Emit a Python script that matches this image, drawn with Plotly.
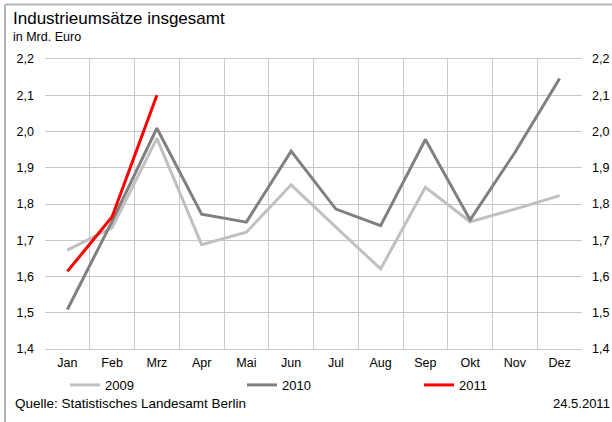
import plotly.graph_objects as go

# Industrieumsätze Berlin, in Mrd. Euro
monate = ['Jan', 'Feb', 'Mrz', 'Apr', 'Mai', 'Jun', 'Jul', 'Aug', 'Sep', 'Okt', 'Nov', 'Dez']
umsatz_2009 = [1.673, 1.735, 1.981, 1.688, 1.722, 1.853, 1.736, 1.621, 1.846, 1.751, 1.786, 1.823]
umsatz_2010 = [1.509, 1.752, 2.009, 1.772, 1.750, 1.946, 1.786, 1.740, 1.978, 1.756, 1.942, 2.146]
umsatz_2011 = [1.614, 1.765, 2.100]

font = 'Liberation Sans, Arial, sans-serif'
grid = '#c8c8c8'

fig = go.Figure()
serien = [
    ('2009', umsatz_2009, '#c0c0c0', 'y'),
    ('2010', umsatz_2010, '#808080', 'y'),
    ('2011', umsatz_2011, '#ff0000', 'y2'),  # rechte Achse, gleiche Skala
]
for name, werte, farbe, achse in serien:
    fig.add_trace(go.Scatter(
        x=monate[:len(werte)],
        y=werte,
        yaxis=achse,
        mode='lines',
        name=name,
        line=dict(color=farbe, width=3),
    ))

fig.update_layout(
    width=612,
    height=422,
    margin=dict(l=45, r=30, t=59, b=73, autoexpand=False),
    paper_bgcolor='white',
    plot_bgcolor='white',
    separators=',.',
    font=dict(family=font, size=12.5, color='#000000'),
    showlegend=True,
    legend=dict(
        orientation='h',
        x=(596 - 45) / 537,
        xanchor='right',
        y=-0.124,
        yanchor='middle',
        entrywidth=132,
        entrywidthmode='pixels',
        font=dict(size=13),
        bgcolor='rgba(0,0,0,0)',
    ),
    xaxis=dict(
        type='category',
        categoryorder='array',
        categoryarray=monate,
        tickson='boundaries',
        showgrid=True,
        gridcolor=grid,
        gridwidth=1,
        showline=True,
        linecolor=grid,
        linewidth=1,
        mirror=True,
        ticks='',
        ticklabelstandoff=2,
        range=[-0.5, 11.5],
        fixedrange=True,
    ),
    yaxis=dict(
        range=[1.4, 2.2],
        dtick=0.1,
        tickformat='.1f',
        showgrid=True,
        gridcolor=grid,
        gridwidth=1,
        zeroline=False,
        ticks='',
        ticklabelstandoff=10,
    ),
    yaxis2=dict(
        range=[1.4, 2.2],
        dtick=0.1,
        tickformat='.1f',
        overlaying='y',
        side='right',
        showgrid=False,
        zeroline=False,
        ticks='',
        ticklabelstandoff=9,
    ),
)

def px_x(p):
    return (p - 45) / 537

def px_y(p):
    return (349 - p) / 290

fig.add_annotation(text='Industrieumsätze insgesamt', xref='paper', yref='paper',
                   x=px_x(11), y=px_y(19), xanchor='left', yanchor='middle',
                   showarrow=False, font=dict(size=17))
fig.add_annotation(text='in Mrd. Euro', xref='paper', yref='paper',
                   x=px_x(11), y=px_y(37), xanchor='left', yanchor='middle',
                   showarrow=False, font=dict(size=12.5))
fig.add_annotation(text='Quelle: Statistisches Landesamt Berlin', xref='paper', yref='paper',
                   x=px_x(13), y=px_y(403), xanchor='left', yanchor='middle',
                   showarrow=False, font=dict(size=13.5))
fig.add_annotation(text='24.5.2011', xref='paper', yref='paper',
                   x=px_x(612), y=px_y(403), xanchor='right', yanchor='middle',
                   showarrow=False, font=dict(size=13))

# grauer Rahmen oben und links
fig.add_shape(type='line', xref='paper', yref='paper',
              x0=px_x(5), x1=px_x(640), y0=px_y(4.5), y1=px_y(4.5),
              line=dict(color='#b4b4b4', width=2))
fig.add_shape(type='line', xref='paper', yref='paper',
              x0=px_x(5), x1=px_x(5), y0=px_y(4.5), y1=px_y(440),
              line=dict(color='#b4b4b4', width=2))

fig.write_html('out.html', config={'displayModeBar': False},
               post_script="document.body.style.margin='0';")
